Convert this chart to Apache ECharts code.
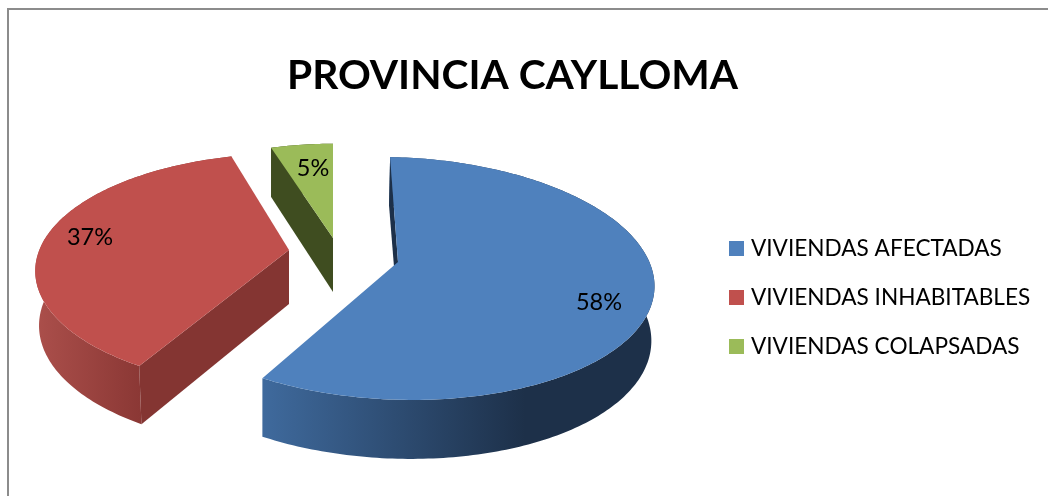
<!DOCTYPE html>
<html>
<head>
<meta charset="utf-8">
<style>html,body{margin:0;padding:0;background:#fff}</style>
<script src="https://cdn.jsdelivr.net/npm/echarts@6/dist/echarts.min.js"></script>
</head>
<body>
<div id="chart" style="width:1048px;height:496px"></div>
<script>
const titleText = 'PROVINCIA CAYLLOMA';
const categories = ['VIVIENDAS AFECTADAS', 'VIVIENDAS INHABITABLES', 'VIVIENDAS COLAPSADAS'];
const values = [58, 37, 5];
const total = values.reduce((a, b) => a + b, 0);

// colores: cara superior, pared del corte, degradado del borde
const topColors = ['#4f81bd', '#c0504d', '#9bbb59'];
const wallColors = ['#1d3049', '#843532', '#3f4d20'];
const rimStops = [
  [262, '#3f6a9d', 525, '#1d3049'],
  [36, '#ab4f4b', 140, '#8b3835'],
  [270, '#3f4d20', 335, '#3f4d20']
];

// vertice de cada porcion separada (explosion) y ajuste de escala/giro
const apex = [[398, 262], [289, 250], [333, 238]];
const rimShift = [[-2, 0], [0, 5], [0, 0]];
const scaleX = [0.985, 0.967, 0.87];
const scaleY = [1, 0.97, 0.9];
const skew = [0.03, 0, 0];
const turn = [-1.5, 3, 0];
const labelPos = [[599, 302], [90, 237], [313, 168]];
// la cara inferior se ve algo mas estrecha
const bottomPivot = [262, 289, 333];
const bottomShrink = [0.992, 0.985, 1];

// elipse base con perspectiva
const RX = 260, RY = 119, PERSP = 0.136;

function rimPoint(i, deg) {
  const t = (deg + turn[i]) * Math.PI / 180;
  const u = Math.sin(t), v = Math.cos(t);
  const s = 1 / (1 + PERSP * v);
  const x = apex[i][0] + rimShift[i][0] + RX * scaleX[i] * u * s;
  return {
    x: x,
    y: apex[i][1] + rimShift[i][1] - RY * scaleY[i] * v * s + skew[i] * (x - apex[i][0]),
    drop: 54 - 5 * v
  };
}

function lowerPoint(i, p) {
  return [bottomPivot[i] + (p.x - bottomPivot[i]) * bottomShrink[i], p.y + p.drop];
}

function renderSlice(i, api) {
  const val = api.value(0);
  const before = values.slice(0, i).reduce((a, b) => a + b, 0);
  const from = before / total * 360;
  const to = (before + val) / total * 360;

  const arc = [];
  for (let d = from; d < to; d += 1) arc.push(rimPoint(i, d));
  arc.push(rimPoint(i, to));

  const upper = arc.map(p => [p.x, p.y]);
  const lower = arc.map(p => lowerPoint(i, p)).reverse();
  const first = arc[0];
  const [ax, ay] = apex[i];
  const [x0, c0, x1, c1] = rimStops[i];

  return {
    type: 'group',
    children: [
      {
        type: 'polygon',
        shape: { points: upper.concat(lower) },
        style: {
          fill: new echarts.graphic.LinearGradient(x0, 0, x1, 0, [
            { offset: 0, color: c0 },
            { offset: 1, color: c1 }
          ], true)
        }
      },
      {
        // solo la pared del inicio se ve desde este angulo
        type: 'polygon',
        shape: {
          points: [
            [first.x, first.y],
            [ax, ay],
            [ax, ay + 54],
            lowerPoint(i, first)
          ]
        },
        style: { fill: wallColors[i] }
      },
      {
        type: 'polygon',
        shape: { points: [[ax, ay]].concat(upper) },
        style: { fill: topColors[i] }
      },
      {
        type: 'text',
        style: {
          text: Math.round(val / total * 100) + '%',
          x: labelPos[i][0],
          y: labelPos[i][1],
          align: 'center',
          verticalAlign: 'middle',
          fill: '#000',
          font: '23.5px Lato'
        }
      }
    ]
  };
}

const chart = echarts.init(document.getElementById('chart'), null, { renderer: 'canvas' });
chart.setOption({
  animation: false,
  color: topColors,
  graphic: [{
    type: 'rect',
    silent: true,
    z: -1,
    shape: { x: 8, y: 9, width: 1100, height: 520 },
    style: { fill: '#fff', stroke: '#8c8c8c', lineWidth: 2 }
  }],
  title: {
    text: titleText,
    left: 287,
    top: 55,
    padding: 0,
    textStyle: { fontFamily: 'Lato', fontWeight: 'bold', fontSize: 40.7, color: '#000' }
  },
  legend: {
    orient: 'vertical',
    left: 729,
    top: 237,
    padding: 0,
    itemWidth: 15,
    itemHeight: 15,
    itemGap: 26,
    icon: 'rect',
    data: categories,
    textStyle: { fontFamily: 'Lato', fontSize: 22.6, lineHeight: 21, color: '#000', padding: [0, 0, 0, 2] }
  },
  series: categories.map((name, i) => ({
    type: 'custom',
    name: name,
    coordinateSystem: 'none',
    silent: true,
    data: [values[i]],
    renderItem: (params, api) => renderSlice(i, api)
  }))
});
</script>
</body>
</html>
